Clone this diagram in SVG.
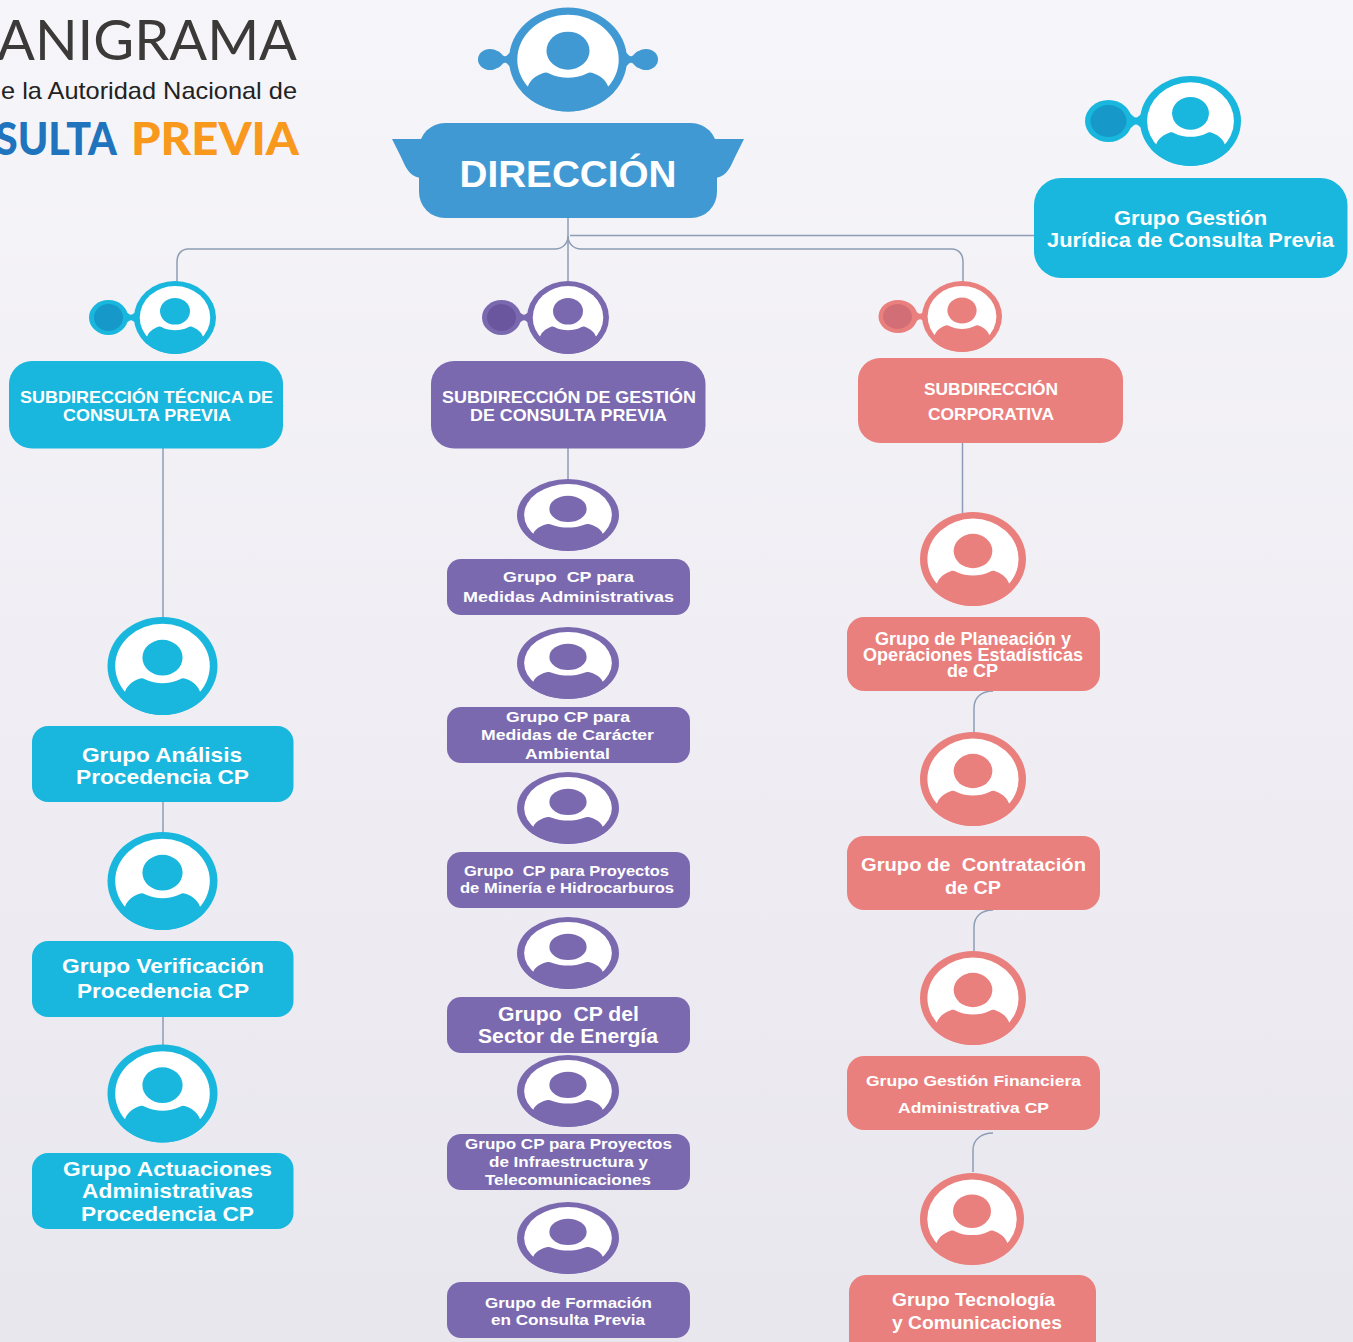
<svg xmlns="http://www.w3.org/2000/svg" width="1353" height="1342" viewBox="0 0 1353 1342">
<style>
text{font-family:"Liberation Sans",Arial,sans-serif;font-weight:bold;fill:#fff;text-anchor:middle;white-space:pre}
.blue{color:#4199d3;fill:#4199d3}.cyan{color:#19b7dd;fill:#19b7dd}.purple{color:#7b69b0;fill:#7b69b0}.salmon{color:#ea807d;fill:#ea807d}
.conn{fill:none;stroke:#8d9db5;stroke-width:1.5}
</style>
<defs>
<linearGradient id="bg" x1="0" y1="0" x2="0" y2="1"><stop offset="0" stop-color="#f6f5f9"/><stop offset="1" stop-color="#e9e7ee"/></linearGradient>
<g id="person">
<ellipse rx="100" ry="100" fill="currentColor"/>
<ellipse rx="86" ry="86" fill="#fff"/>
<ellipse cy="-17" rx="36.5" ry="36.5" fill="currentColor"/>
<path d="M-68,52 C-64,38 -52,30 -42,26 C-38,24 -35,25 -32,27 C-22,33 -10,35 0,35 C10,35 22,33 32,27 C35,25 38,24 42,26 C52,30 64,38 68,52 L78,62 A99,99 0 0 1 -78,62Z" fill="currentColor"/>
</g>
<path id="neck" d="M0,-1.600 C.3,-1.600 .35,-.6 .5,-.6 C.65,-.6 .7,-1.600 1,-1.600 V1.600 C.7,1.600 .65,.6 .5,.6 C.35,.6 .3,1.600 0,1.600Z"/>
</defs>
<rect id="background" width="1353" height="1342" fill="url(#bg)"/>

<g id="logo">
<text x="297" y="60" font-size="56" textLength="300" lengthAdjust="spacingAndGlyphs" style="font-family:Lato,'Liberation Sans',sans-serif;font-weight:400;text-anchor:end;fill:#3c3a39">ANIGRAMA</text>
<text x="297" y="99" font-size="24" textLength="296" lengthAdjust="spacingAndGlyphs" style="font-weight:normal;text-anchor:end;fill:#222">e la Autoridad Nacional de</text>
<text x="117" y="155" font-size="45" textLength="122" lengthAdjust="spacingAndGlyphs" style="font-family:Lato,'Liberation Sans',sans-serif;font-weight:900;text-anchor:end;fill:#1f74bd">SULTA</text>
<text x="131" y="155" font-size="45" textLength="168" lengthAdjust="spacingAndGlyphs" style="font-family:Lato,'Liberation Sans',sans-serif;font-weight:900;text-anchor:start;fill:#f8981d">PREVIA</text>
</g>

<g id="connectors" class="conn">
<path d="M568,218V282"/>
<path d="M568,236C568,244 562,249 555,249H188C182,249 177,254 177,261V282"/>
<path d="M568,236C568,244 574,249 581,249H952C958,249 963,254 963,261V282"/>
<path d="M570,235.500H1034"/>
<path d="M163,448V618M163,802V832M163,1017V1045"/>
<path d="M568,448V479"/>
<path d="M962.500,443V513"/>
<path d="M993,691C981,691 974,698 974,708V732"/>
<path d="M993,910C981,910 974,917 974,927V951"/>
<path d="M993,1133C981,1133 973,1140 973,1150V1172"/>
</g>

<g id="direccion" class="blue">
<path d="M392,139H430V178H420C408,176 405,165 400,155Z"/>
<path d="M744,139H706V178H716C728,176 731,165 736,155Z"/>
<rect x="419" y="123" width="298" height="95" rx="26"/>
<ellipse cx="490" cy="59.500" rx="12" ry="10.500"/><ellipse cx="646" cy="59.500" rx="12" ry="10.500"/>
<use href="#neck" transform="translate(495,59.500) scale(20,5.500)"/>
<use href="#neck" transform="translate(621,59.500) scale(20,5.500)"/>
<use href="#person" transform="translate(568,59.500) scale(.59,.52)"/>
<text x="568" y="187" font-size="36" textLength="217" lengthAdjust="spacingAndGlyphs">DIRECCIÓN</text>
</g>

<g id="juridica" class="cyan">
<use href="#neck" transform="translate(1124,121) scale(24,6)"/>
<ellipse cx="1108.500" cy="121" rx="23.500" ry="21"/><ellipse cx="1108.500" cy="121" rx="18" ry="16" fill="#1698c9"/>
<use href="#person" transform="translate(1190.500,121) scale(.505,.45)"/>
<rect x="1034" y="178" width="313.500" height="100" rx="27"/>
<text x="1190.500" y="225" font-size="20" textLength="153" lengthAdjust="spacingAndGlyphs">Grupo Gestión</text>
<text x="1190.500" y="247" font-size="20" textLength="287" lengthAdjust="spacingAndGlyphs">Jurídica de Consulta Previa</text>
</g>

<g id="sub-tecnica" class="cyan">
<use href="#neck" transform="translate(121,317.500) scale(20,4.500)"/>
<ellipse cx="108.500" cy="317.500" rx="19.500" ry="17.500"/><ellipse cx="108.500" cy="317.500" rx="14.500" ry="13.500" fill="#1698c9"/>
<use href="#person" transform="translate(175,317.500) scale(.41,.365)"/>
<rect x="9" y="361" width="274" height="87.500" rx="23"/>
<text x="146.500" y="403" font-size="17" textLength="253" lengthAdjust="spacingAndGlyphs">SUBDIRECCIÓN TÉCNICA DE</text>
<text x="147" y="421" font-size="17" textLength="168" lengthAdjust="spacingAndGlyphs">CONSULTA PREVIA</text>
</g>

<g id="sub-gestion" class="purple">
<use href="#neck" transform="translate(514,317.500) scale(20,4.500)"/>
<ellipse cx="501.500" cy="317.500" rx="19.500" ry="17.500"/><ellipse cx="501.500" cy="317.500" rx="14.500" ry="13.500" fill="#6a559f"/>
<use href="#person" transform="translate(568,317.500) scale(.41,.365)"/>
<rect x="431" y="361" width="274.500" height="87.500" rx="23"/>
<text x="569" y="403" font-size="17" textLength="254" lengthAdjust="spacingAndGlyphs">SUBDIRECCIÓN DE GESTIÓN</text>
<text x="568.500" y="421" font-size="17" textLength="197" lengthAdjust="spacingAndGlyphs">DE CONSULTA PREVIA</text>
</g>

<g id="sub-corporativa" class="salmon">
<use href="#neck" transform="translate(910,316.500) scale(20,4.500)"/>
<ellipse cx="898" cy="316.500" rx="19.500" ry="16.500"/><ellipse cx="897.500" cy="316.500" rx="14.500" ry="12.500" fill="#d26f76"/>
<use href="#person" transform="translate(962,316.500) scale(.40,.355)"/>
<rect x="858" y="358" width="265" height="85" rx="22"/>
<text x="991" y="394.500" font-size="16" textLength="134" lengthAdjust="spacingAndGlyphs">SUBDIRECCIÓN</text>
<text x="991" y="419.500" font-size="16" textLength="126" lengthAdjust="spacingAndGlyphs">CORPORATIVA</text>
</g>

<g id="grupo-analisis" class="cyan">
<use href="#person" transform="translate(162.500,666) scale(.55,.49)"/>
<rect x="32" y="726" width="261.500" height="76" rx="16"/>
<text x="162" y="762" font-size="21" textLength="160" lengthAdjust="spacingAndGlyphs">Grupo Análisis</text>
<text x="162.500" y="784" font-size="21" textLength="173" lengthAdjust="spacingAndGlyphs">Procedencia CP</text>
</g>
<g id="grupo-verificacion" class="cyan">
<use href="#person" transform="translate(162.500,881) scale(.55,.49)"/>
<rect x="32" y="941" width="261.500" height="76" rx="16"/>
<text x="163" y="973" font-size="21" textLength="202" lengthAdjust="spacingAndGlyphs">Grupo Verificación</text>
<text x="163" y="998" font-size="21" textLength="172" lengthAdjust="spacingAndGlyphs">Procedencia CP</text>
</g>
<g id="grupo-actuaciones" class="cyan">
<use href="#person" transform="translate(162.500,1093.500) scale(.55,.49)"/>
<rect x="32" y="1153" width="261.500" height="76" rx="16"/>
<text x="167.500" y="1176" font-size="21" textLength="209" lengthAdjust="spacingAndGlyphs">Grupo Actuaciones</text>
<text x="167.500" y="1198" font-size="21" textLength="171" lengthAdjust="spacingAndGlyphs">Administrativas</text>
<text x="167.500" y="1221" font-size="21" textLength="173" lengthAdjust="spacingAndGlyphs">Procedencia CP</text>
</g>

<g id="grupo-medidas-adm" class="purple">
<use href="#person" transform="translate(568,515) scale(.51,.36)"/>
<rect x="447" y="559" width="243" height="56" rx="14"/>
<text x="568.500" y="582" font-size="15" textLength="131" lengthAdjust="spacingAndGlyphs">Grupo  CP para</text>
<text x="568.500" y="602" font-size="15" textLength="211" lengthAdjust="spacingAndGlyphs">Medidas Administrativas</text>
</g>
<g id="grupo-medidas-amb" class="purple">
<use href="#person" transform="translate(568,663) scale(.51,.36)"/>
<rect x="447" y="707" width="243" height="56" rx="14"/>
<text x="568" y="722" font-size="15" textLength="124" lengthAdjust="spacingAndGlyphs">Grupo CP para</text>
<text x="567.500" y="740" font-size="15" textLength="173" lengthAdjust="spacingAndGlyphs">Medidas de Carácter</text>
<text x="567.500" y="759" font-size="15" textLength="85" lengthAdjust="spacingAndGlyphs">Ambiental</text>
</g>
<g id="grupo-mineria" class="purple">
<use href="#person" transform="translate(568,808) scale(.51,.36)"/>
<rect x="447" y="852" width="243" height="56" rx="14"/>
<text x="566.500" y="876" font-size="14" textLength="205" lengthAdjust="spacingAndGlyphs">Grupo  CP para Proyectos</text>
<text x="567" y="893" font-size="14" textLength="214" lengthAdjust="spacingAndGlyphs">de Minería e Hidrocarburos</text>
</g>
<g id="grupo-energia" class="purple">
<use href="#person" transform="translate(568,953) scale(.51,.36)"/>
<rect x="447" y="997" width="243" height="56" rx="14"/>
<text x="568.500" y="1021" font-size="21" textLength="141" lengthAdjust="spacingAndGlyphs">Grupo  CP del</text>
<text x="568" y="1043" font-size="21" textLength="180" lengthAdjust="spacingAndGlyphs">Sector de Energía</text>
</g>
<g id="grupo-infraestructura" class="purple">
<use href="#person" transform="translate(568,1091) scale(.51,.36)"/>
<rect x="447" y="1134" width="243" height="56" rx="14"/>
<text x="568.500" y="1149" font-size="14.500" textLength="207" lengthAdjust="spacingAndGlyphs">Grupo CP para Proyectos</text>
<text x="568.500" y="1167" font-size="14.500" textLength="159" lengthAdjust="spacingAndGlyphs">de Infraestructura y</text>
<text x="568" y="1185" font-size="14.500" textLength="166" lengthAdjust="spacingAndGlyphs">Telecomunicaciones</text>
</g>
<g id="grupo-formacion" class="purple">
<use href="#person" transform="translate(568,1238) scale(.51,.36)"/>
<rect x="447" y="1282" width="243" height="56" rx="14"/>
<text x="568.500" y="1308" font-size="15" textLength="167" lengthAdjust="spacingAndGlyphs">Grupo de Formación</text>
<text x="568" y="1325" font-size="15" textLength="154" lengthAdjust="spacingAndGlyphs">en Consulta Previa</text>
</g>

<g id="grupo-planeacion" class="salmon">
<use href="#person" transform="translate(973,559) scale(.53,.47)"/>
<rect x="847" y="617" width="253" height="74" rx="17"/>
<text x="973" y="644.500" font-size="17.500" textLength="196" lengthAdjust="spacingAndGlyphs">Grupo de Planeación y</text>
<text x="973" y="660.500" font-size="17.500" textLength="220" lengthAdjust="spacingAndGlyphs">Operaciones Estadísticas</text>
<text x="972.500" y="676.500" font-size="17.500" textLength="51" lengthAdjust="spacingAndGlyphs">de CP</text>
</g>
<g id="grupo-contratacion" class="salmon">
<use href="#person" transform="translate(973,779) scale(.53,.47)"/>
<rect x="847" y="836" width="253" height="74" rx="17"/>
<text x="973.500" y="870.500" font-size="19" textLength="225" lengthAdjust="spacingAndGlyphs">Grupo de  Contratación</text>
<text x="973" y="893.500" font-size="19" textLength="56" lengthAdjust="spacingAndGlyphs">de CP</text>
</g>
<g id="grupo-financiera" class="salmon">
<use href="#person" transform="translate(973,998) scale(.53,.47)"/>
<rect x="847" y="1056" width="253" height="74" rx="17"/>
<text x="973.500" y="1085.500" font-size="15.500" textLength="215" lengthAdjust="spacingAndGlyphs">Grupo Gestión Financiera</text>
<text x="973.500" y="1113" font-size="15.500" textLength="151" lengthAdjust="spacingAndGlyphs">Administrativa CP</text>
</g>
<g id="grupo-tecnologia" class="salmon">
<use href="#person" transform="translate(972,1219) scale(.52,.46)"/>
<rect x="849" y="1275" width="247" height="85" rx="17"/>
<text x="973.500" y="1306" font-size="19" textLength="163" lengthAdjust="spacingAndGlyphs">Grupo Tecnología</text>
<text x="977" y="1329" font-size="19" textLength="170" lengthAdjust="spacingAndGlyphs">y Comunicaciones</text>
</g>
</svg>
